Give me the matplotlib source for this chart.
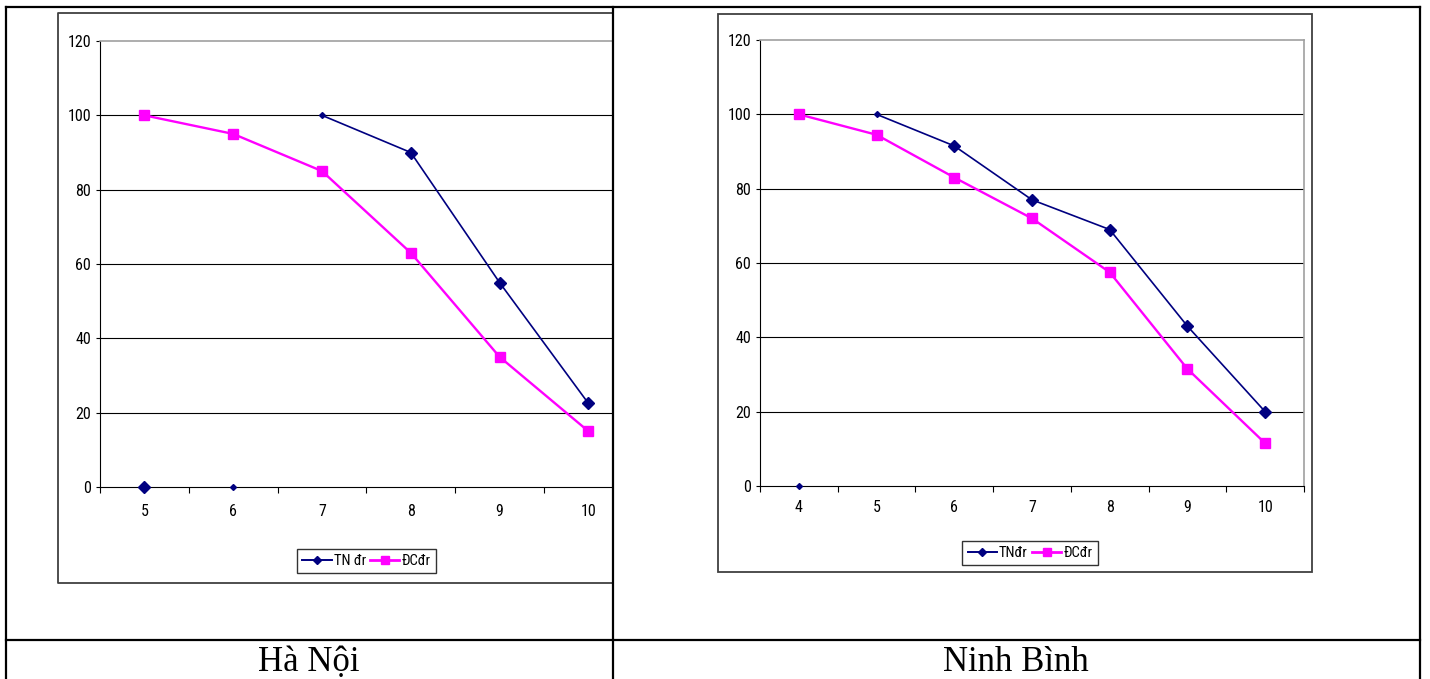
import matplotlib
matplotlib.use("Agg")
import matplotlib.pyplot as plt
from matplotlib.lines import Line2D
from matplotlib.ticker import FixedLocator, NullFormatter
from matplotlib import font_manager

# ---------------- data ----------------
hn_categories = [5, 6, 7, 8, 9, 10]
hn_tn = [0, 0, 100, 90, 55, 22.5]
hn_dc = [100, 95, 85, 63, 35, 15]

nb_categories = [4, 5, 6, 7, 8, 9, 10]
nb_tn = [0, 100, 91.5, 77, 69, 43, 20]
nb_dc = [100, 94.5, 83, 72, 57.5, 31.5, 11.5]

y_ticks = [0, 20, 40, 60, 80, 100, 120]
legend_labels_hn = ["TN đr", "ĐCđr"]
legend_labels_nb = ["TNđr", "ĐCđr"]
captions = ["Hà Nội", "Ninh Bình"]

W, H = 1430, 679
fig = plt.figure(figsize=(W / 100, H / 100), dpi=100)
fig.patch.set_facecolor("white")

NAVY = "#000080"
MAG = "#FF00FF"

available = {f.name for f in font_manager.fontManager.ttflist}
TICKFONT = [f for f in ["Roboto Condensed", "Liberation Sans Narrow", "Open Sans Condensed",
                        "Liberation Sans", "DejaVu Sans"] if f in available]
narrow = TICKFONT[0] != "Liberation Sans"
TFS = 11.5 if narrow else 10.5
LFS = 10.5 if narrow else 9.5


def fx(x):
    return x / W


def fy(y):
    return 1 - y / H


def fline(xs, ys, color="black", lw=1.0):
    fig.add_artist(Line2D([fx(x) for x in xs], [fy(y) for y in ys],
                          transform=fig.transFigure, color=color, lw=lw,
                          solid_capstyle="projecting"))


def make_axes(left, right, top, bottom):
    return fig.add_axes([fx(left), fy(bottom), fx(right) - fx(left), (bottom - top) / H])


def style_axes(ax, cats, xlim, xlabel_pad):
    ax.set_ylim(0, 120)
    ax.set_xlim(*xlim)
    ax.set_yticks(y_ticks)
    ax.set_yticklabels([str(v) for v in y_ticks], fontfamily=TICKFONT, fontsize=TFS)
    bounds = [c - 0.5 for c in cats] + [cats[-1] + 0.5]
    ax.xaxis.set_major_locator(FixedLocator(bounds))
    ax.xaxis.set_major_formatter(NullFormatter())
    ax.xaxis.set_minor_locator(FixedLocator(cats))
    ax.set_xticklabels([str(c) for c in cats], minor=True, fontfamily=TICKFONT, fontsize=TFS)
    ax.tick_params(axis="x", which="major", length=4.3, width=0.8, direction="out", color="black")
    ax.tick_params(axis="x", which="minor", length=0, pad=xlabel_pad)
    ax.tick_params(axis="y", length=3, width=0.8, direction="out", pad=3.5, color="black")
    for y in y_ticks[1:-1]:
        ax.axhline(y, color="#000000", lw=0.8, zorder=1)
    ax.spines["left"].set_color("black")
    ax.spines["bottom"].set_color("black")
    ax.spines["left"].set_linewidth(0.8)
    ax.spines["bottom"].set_linewidth(0.8)
    ax.spines["top"].set_color("#a0a0a0")
    ax.spines["right"].set_color("#a0a0a0")
    ax.spines["top"].set_linewidth(1.2)
    ax.spines["right"].set_linewidth(1.2)
    ax.set_facecolor("white")
    for sp in ax.spines.values():
        sp.set_zorder(5)


def legend(ax, labels, cx, cy):
    handles = [
        Line2D([], [], color=NAVY, lw=1.4, marker="D", ms=4, mec=NAVY, mfc=NAVY),
        Line2D([], [], color=MAG, lw=2.0, marker="s", ms=6, mec=MAG, mfc=MAG),
    ]
    leg = ax.legend(handles, labels, loc="center", bbox_to_anchor=(fx(cx), fy(cy)),
                    bbox_transform=fig.transFigure, ncol=2, frameon=True, fancybox=False,
                    edgecolor="black", handlelength=2.0, handletextpad=0.15,
                    columnspacing=0.3, borderpad=0.35, borderaxespad=0,
                    prop={"family": TICKFONT, "size": LFS})
    leg.get_frame().set_linewidth(1.0)
    leg.set_zorder(10)


# ---------------- Hà Nội ----------------
fline([612, 58, 58, 612], [13, 13, 583, 583], color="#404040", lw=1.3)
ax1 = make_axes(100, 612, 41, 487)
sp1 = 88.8
style_axes(ax1, hn_categories, (4.5, 4.5 + 512 / sp1), 12.5)
ax1.spines["right"].set_visible(False)
ax1.plot(hn_categories, hn_dc, color=MAG, lw=1.7, marker="s", ms=7.5, mfc=MAG, mec=MAG,
         zorder=4, clip_on=False)
ax1.plot(hn_categories[2:], hn_tn[2:], color=NAVY, lw=1.2, zorder=4, clip_on=False)
ax1.plot(hn_categories[3:], hn_tn[3:], ls="none", marker="D", ms=6, color=NAVY, zorder=6, clip_on=False)
ax1.plot(hn_categories[0:1], hn_tn[0:1], ls="none", marker="D", ms=6, color=NAVY, zorder=6, clip_on=False)
ax1.plot(hn_categories[1:3], hn_tn[1:3], ls="none", marker="D", ms=3, color=NAVY, zorder=6, clip_on=False)
legend(ax1, legend_labels_hn, 366.5, 561)

# ---------------- Ninh Bình ----------------
fig.add_artist(plt.Rectangle((fx(718), fy(572)), fx(1312) - fx(718), (572 - 14) / H,
                             transform=fig.transFigure, fill=False, edgecolor="#404040", lw=1.3))
ax2 = make_axes(760, 1304, 40, 486)
style_axes(ax2, nb_categories, (3.5, 10.5), 10)
ax2.plot(nb_categories, nb_dc, color=MAG, lw=1.7, marker="s", ms=7.5, mfc=MAG, mec=MAG,
         zorder=4, clip_on=False)
ax2.plot(nb_categories[1:], nb_tn[1:], color=NAVY, lw=1.2, zorder=4, clip_on=False)
ax2.plot(nb_categories[2:], nb_tn[2:], ls="none", marker="D", ms=6, color=NAVY, zorder=6, clip_on=False)
ax2.plot(nb_categories[0:2], nb_tn[0:2], ls="none", marker="D", ms=3, color=NAVY, zorder=6, clip_on=False)
legend(ax2, legend_labels_nb, 1030, 553)

# ---------------- table ----------------
TL = 1.6
fline([6, 1420], [7, 7], lw=TL)
fline([6, 6], [7, 679], lw=TL)
fline([612.5, 612.5], [7, 679], lw=TL)
fline([1420, 1420], [7, 679], lw=TL)
fline([6, 1420], [640, 640], lw=TL)

fig.text(fx(309), fy(671), captions[0], ha="center", va="baseline",
         fontfamily="Liberation Serif", fontsize=25)
fig.text(fx(1016), fy(671), captions[1], ha="center", va="baseline",
         fontfamily="Liberation Serif", fontsize=25)

fig.savefig("out.png", dpi=100, facecolor="white")
